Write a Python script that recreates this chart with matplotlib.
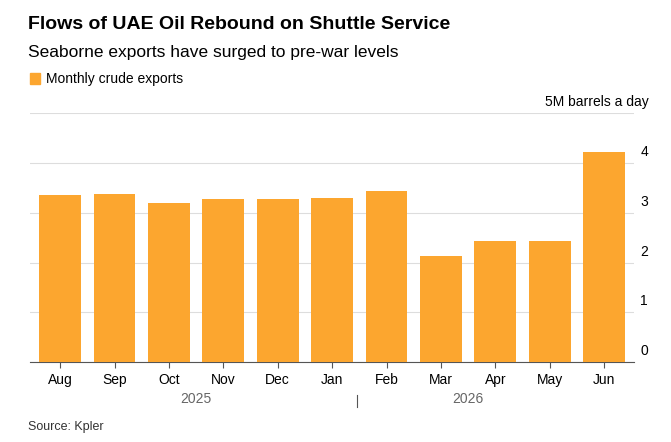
import matplotlib.pyplot as plt

months = ['Aug', 'Sep', 'Oct', 'Nov', 'Dec', 'Jan', 'Feb', 'Mar', 'Apr', 'May', 'Jun']
exports = [3.36, 3.38, 3.2, 3.28, 3.28, 3.3, 3.44, 2.14, 2.44, 2.44, 4.22]
orange = '#fca62f'

plt.rcParams['font.family'] = ['Liberation Sans', 'DejaVu Sans']
fig = plt.figure(figsize=(6.71, 4.42), dpi=100)
ax = fig.add_axes([0.045, 0.18, 0.90, 0.565])

x = range(len(months))
ax.bar(x, exports, width=0.77, color=orange, zorder=3)
ax.set_xlim(-0.55, len(months) - 0.45)
ax.set_ylim(0, 5)
ax.set_yticks([0, 1, 2, 3, 4, 5])
ax.set_yticklabels([])
for v in range(5):
    ax.text(1.01, v + 0.08, str(v), transform=ax.get_yaxis_transform(),
            ha='left', va='bottom', fontsize=10)
ax.text(1.025, 5.08, '5M barrels a day', transform=ax.get_yaxis_transform(),
        ha='right', va='bottom', fontsize=10)
ax.grid(axis='y', color='#dddddd', lw=0.8, zorder=0)
ax.tick_params(axis='y', length=0)
ax.set_xticks(list(x))
ax.set_xticklabels(months, fontsize=10)
ax.tick_params(axis='x', length=4, color='#555555')
for s in ['top', 'right', 'left']:
    ax.spines[s].set_visible(False)
ax.spines['bottom'].set_color('#555555')

ax.text(2.5, -0.12, '2025', transform=ax.get_xaxis_transform(), ha='center', va='top',
        fontsize=10, color='#666666')
ax.text(7.5, -0.12, '2026', transform=ax.get_xaxis_transform(), ha='center', va='top',
        fontsize=10, color='#666666')
ax.plot([5.45, 5.45], [-0.13, -0.18], transform=ax.get_xaxis_transform(),
        color='#555555', lw=0.8, clip_on=False)

fig.text(0.042, 0.925, 'Flows of UAE Oil Rebound on Shuttle Service', fontsize=14,
         fontweight='bold', va='bottom')
fig.text(0.042, 0.865, 'Seaborne exports have surged to pre-war levels', fontsize=12.5,
         va='bottom')
fig.patches.append(plt.Rectangle((0.045, 0.81), 0.015, 0.024, color=orange,
                                 transform=fig.transFigure))
fig.text(0.068, 0.806, 'Monthly crude exports', fontsize=10, va='bottom')
fig.text(0.042, 0.02, 'Source: Kpler', fontsize=9, color='#333333', va='bottom')

fig.savefig('out.png', dpi=100)
